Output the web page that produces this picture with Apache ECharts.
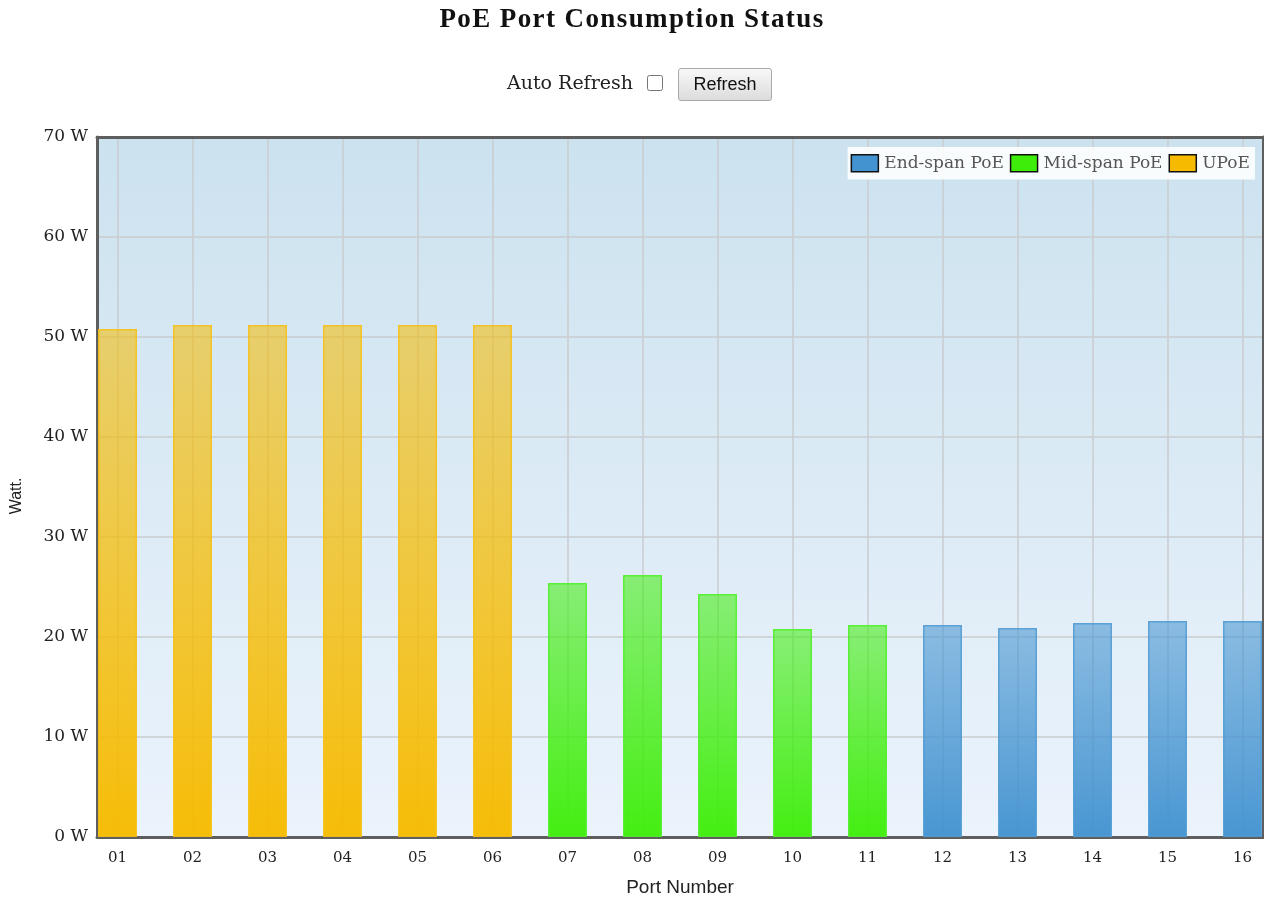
<!DOCTYPE html>
<html>
<head>
<meta charset="utf-8">
<title>PoE Port Consumption Status</title>
<script src="https://cdn.jsdelivr.net/npm/echarts@6/dist/echarts.min.js"></script>
<style>
  html, body { margin: 0; padding: 0; background: #fff; overflow: hidden; }
  #chart { position: absolute; left: 0; top: 0; width: 1264px; height: 902px; }
  #head { position: absolute; left: 0; top: 0; width: 1264px; height: 110px; pointer-events: none; }
  #head h1 { position: absolute; left: 0; top: 3px; width: 1264px; margin: 0; text-align: center;
    font-family: "Liberation Serif", "Times New Roman", serif; font-weight: bold; font-size: 27px; letter-spacing: 1.4px; color: #111; }
  #head .lbl { position: absolute; left: 507px; top: 71px; font-family: "DejaVu Serif", serif; font-size: 19px; color: #222; }
  #head input { position: absolute; left: 647px; top: 75px; width: 16px; height: 16px; margin: 0; pointer-events: auto; }
  #head button { position: absolute; left: 678px; top: 68px; width: 94px; height: 33px; font-family: "Liberation Sans", Arial, sans-serif; font-size: 18px; color: #111;
    background: linear-gradient(#f8f8f8, #dcdcdc); border: 1px solid #a9a9a9; border-radius: 3px; pointer-events: auto; padding: 0; }
</style>
</head>
<body>
<div id="chart"></div>
<div id="head">
  <h1>PoE Port Consumption Status</h1>
  <span class="lbl">Auto Refresh</span>
  <input type="checkbox">
  <button type="button">Refresh</button>
</div>
<script>
// Port labels along the x axis (port n sits at x = n)
const ports = ['01','02','03','04','05','06','07','08','09','10','11','12','13','14','15','16'];
// Consumption per port in watts, grouped by PoE type
const upoePorts = [1, 2, 3, 4, 5, 6];
const upoeWatts = [50.8, 51.2, 51.2, 51.2, 51.2, 51.2];
const midspanPorts = [7, 8, 9, 10, 11];
const midspanWatts = [25.4, 26.2, 24.3, 20.8, 21.2];
const endspanPorts = [12, 13, 14, 15, 16];
const endspanWatts = [21.2, 20.9, 21.4, 21.6, 21.6];
// Y axis ticks
const wattTicks = [0, 10, 20, 30, 40, 50, 60, 70];

const portTicks = ports.map((p, i) => i + 1);
const xMin = 1 - 20.5 / 75;
const xMax = 1 + (1263 - 117.5) / 75;

function pairs(xs, ys) { return xs.map((x, i) => [x, ys[i]]); }

function barFill(r, g, b) {
  return new echarts.graphic.LinearGradient(0, 0, 0, 1, [
    { offset: 0, color: `rgba(${r},${g},${b},0.55)` },
    { offset: 1, color: `rgba(${r},${g},${b},0.97)` }
  ]);
}

const BLUE = [67, 147, 208], GREEN = [62, 238, 10], YELLOW = [246, 187, 0];
const serif = '"DejaVu Serif", serif';
const sans = '"Liberation Sans", Arial, sans-serif';
const frame = { show: true, onZero: false, lineStyle: { color: '#5e5e5e', width: 3 } };

const chart = echarts.init(document.getElementById('chart'), null, { renderer: 'canvas' });

chart.setOption({
  animation: false,
  legend: {
    right: 9, top: 147,
    orient: 'horizontal',
    backgroundColor: 'rgba(255,255,255,0.88)',
    padding: [7, 5, 7, 3],
    itemWidth: 27, itemHeight: 17, itemGap: 6,
    icon: 'rect',
    textStyle: { fontFamily: serif, fontSize: 17, color: '#555', padding: [0, 0, 0, 1] },
    data: [
      { name: 'End-span PoE', itemStyle: { color: 'rgb(67,147,208)', borderColor: '#111', borderWidth: 1.5 } },
      { name: 'Mid-span PoE', itemStyle: { color: 'rgb(62,238,10)', borderColor: '#111', borderWidth: 1.5 } },
      { name: 'UPoE', itemStyle: { color: 'rgb(246,187,0)', borderColor: '#111', borderWidth: 1.5 } }
    ]
  },
  grid: {
    left: 97, right: 1, top: 137, bottom: 65,
    show: true,
    borderWidth: 0,
    backgroundColor: new echarts.graphic.LinearGradient(0, 0, 0, 1, [
      { offset: 0, color: '#cce2ef' },
      { offset: 1, color: '#ebf3fc' }
    ])
  },
  xAxis: [
    {
      type: 'value',
      min: xMin, max: xMax,
      name: 'Port Number',
      nameLocation: 'middle',
      nameGap: 41,
      nameTextStyle: { fontFamily: sans, fontSize: 19, color: '#222' },
      axisLine: frame,
      axisTick: { show: false, customValues: portTicks },
      axisLabel: {
        customValues: portTicks,
        margin: 14,
        fontFamily: serif, fontSize: 15, color: '#222',
        formatter: v => ports[Math.round(v) - 1]
      },
      splitLine: { show: true, lineStyle: { color: '#c8cccf', width: 1.5 } }
    },
    {
      // top edge of the plot frame
      type: 'value', position: 'top', z: 5,
      min: xMin, max: xMax,
      axisLine: frame, axisTick: { show: false }, axisLabel: { show: false }, splitLine: { show: false }
    }
  ],
  yAxis: [
    {
      type: 'value',
      min: 0, max: 70, interval: 10,
      name: 'Watt.',
      nameLocation: 'middle',
      nameGap: 72,
      nameTextStyle: { fontFamily: sans, fontSize: 16, color: '#222', padding: [0, 18, 0, 0] },
      axisLine: frame,
      axisTick: { show: false },
      axisLabel: {
        margin: 9,
        fontFamily: serif, fontSize: 17, color: '#222',
        formatter: v => wattTicks.includes(v) ? v + ' W' : ''
      },
      splitLine: { show: true, lineStyle: { color: '#c8cccf', width: 1.5 } }
    },
    {
      // right edge of the plot frame
      type: 'value', position: 'right', z: 5,
      min: 0, max: 70, interval: 10,
      axisLine: frame, axisTick: { show: false }, axisLabel: { show: false }, splitLine: { show: false }
    }
  ],
  series: [
    {
      name: 'End-span PoE', type: 'bar', barWidth: 39, barGap: '-100%',
      data: pairs(endspanPorts, endspanWatts),
      itemStyle: { color: barFill(...BLUE), borderColor: 'rgba(80,155,212,0.9)', borderWidth: 1.5 }
    },
    {
      name: 'Mid-span PoE', type: 'bar', barWidth: 39, barGap: '-100%',
      data: pairs(midspanPorts, midspanWatts),
      itemStyle: { color: barFill(...GREEN), borderColor: 'rgba(80,238,40,0.9)', borderWidth: 1.5 }
    },
    {
      name: 'UPoE', type: 'bar', barWidth: 39, barGap: '-100%',
      data: pairs(upoePorts, upoeWatts),
      itemStyle: { color: barFill(...YELLOW), borderColor: 'rgba(245,192,20,0.9)', borderWidth: 1.5 }
    }
  ]
});
</script>
</body>
</html>
